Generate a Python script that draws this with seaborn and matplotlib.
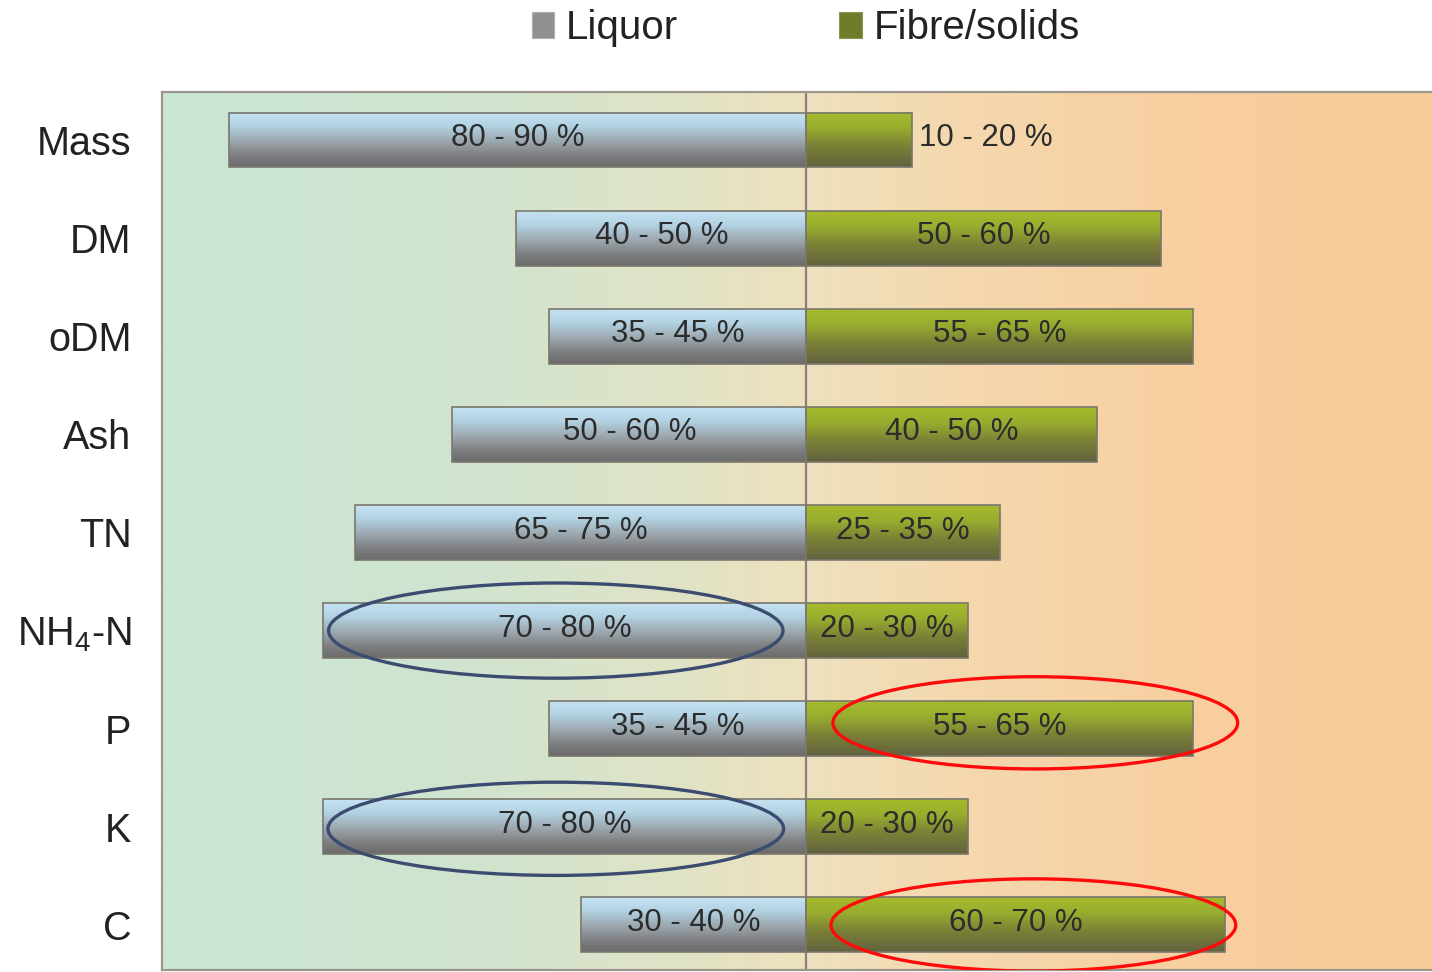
import numpy as np
import pandas as pd
import matplotlib
matplotlib.use("Agg")
import matplotlib.pyplot as plt
import seaborn as sns
from matplotlib.colors import LinearSegmentedColormap
from matplotlib.patches import Ellipse, Patch

# ---- data -------------------------------------------------------------
categories = ["Mass", "DM", "oDM", "Ash", "TN", "NH$_4$-N", "P", "K", "C"]
series_names = ["Liquor", "Fibre/solids"]

# share of each parameter ending up in the liquor / fibre fraction (%)
liquor_share = [89.6, 45, 40, 55, 70, 75, 40, 75, 35]
fibre_share = [16.3, 55, 60, 45, 30, 25, 60, 25, 65]

liquor_labels = ["80 - 90 %", "40 - 50 %", "35 - 45 %", "50 - 60 %", "65 - 75 %",
                 "70 - 80 %", "35 - 45 %", "70 - 80 %", "30 - 40 %"]
fibre_labels = ["10 - 20 %", "50 - 60 %", "55 - 65 %", "40 - 50 %", "25 - 35 %",
                "20 - 30 %", "55 - 65 %", "20 - 30 %", "60 - 70 %"]

# highlighted bars: category, centre x, width, height, vertical shift, colour
highlight_cats = ["NH$_4$-N", "K", "P", "C"]
highlight_cx = [-38.9, -38.9, 35.5, 35.2]
highlight_w = [70.5, 70.7, 62.8, 62.8]
highlight_h = [0.97, 0.95, 0.94, 0.94]
highlight_dy = [0.0, 0.02, -0.06, 0.0]
highlight_col = ["#3b4c70", "#3b4c70", "#ff0a0a", "#ff0a0a"]

# ---- style ------------------------------------------------------------
sns.set_style("white")
plt.rcParams["font.family"] = ["Liberation Sans", "DejaVu Sans"]
plt.rcParams["mathtext.fontset"] = "custom"
plt.rcParams["mathtext.rm"] = "Liberation Sans"
plt.rcParams["mathtext.it"] = "Liberation Sans:italic"
plt.rcParams["mathtext.bf"] = "Liberation Sans:bold"

fig = plt.figure(figsize=(14.32, 9.72), dpi=100)
fig.patch.set_facecolor("white")
ax = fig.add_axes([162 / 1432, 2 / 972, 1289 / 1432, 878 / 972])

df = pd.DataFrame({
    "category": categories * 2,
    "series": [series_names[0]] * len(categories) + [series_names[1]] * len(categories),
    "share": [-v for v in liquor_share] + list(fibre_share),
})

sns.barplot(data=df, y="category", x="share", hue="series", hue_order=series_names,
            order=categories, orient="h", dodge=False, width=0.56, saturation=1,
            palette={"Liquor": "#9aa6ae", "Fibre/solids": "#7d8a32"},
            legend=False, ax=ax)

# background wash: mint green on the left fading into peach on the right
bg_cmap = LinearSegmentedColormap.from_list("bg", [
    (0.0, "#c9e6d4"), (0.22, "#cfe4d0"), (0.40, "#e0e3c6"), (0.50, "#eee1be"),
    (0.62, "#f4d8ae"), (0.80, "#f8cfa0"), (1.0, "#f9cb98")])
ax.imshow(np.linspace(0, 1, 512).reshape(1, -1), cmap=bg_cmap, aspect="auto",
          extent=(0, 1, 0, 1), transform=ax.transAxes, zorder=0,
          interpolation="bilinear")

# glossy vertical gradients inside the bars
liquor_cmap = LinearSegmentedColormap.from_list("liq", [
    (0.0, "#c4e2f2"), (0.25, "#b3d2e3"), (0.55, "#9aa4ab"), (0.8, "#7c7d7f"), (1.0, "#6b6b6b")])
fibre_cmap = LinearSegmentedColormap.from_list("fib", [
    (0.0, "#a6bc2c"), (0.3, "#98ab2f"), (0.6, "#7c8236"), (1.0, "#62623e")])

grad = np.linspace(0, 1, 256).reshape(-1, 1)
for container, cmap in zip(ax.containers, [liquor_cmap, fibre_cmap]):
    for rect in container:
        x0, y0 = rect.get_x(), rect.get_y()
        w, h = rect.get_width(), rect.get_height()
        ax.imshow(grad, cmap=cmap, aspect="auto", origin="upper",
                  extent=(min(x0, x0 + w), max(x0, x0 + w), y0 + h, y0),
                  zorder=2.2, interpolation="bilinear")
        rect.set_facecolor("none")
        rect.set_edgecolor("#7a776c")
        rect.set_linewidth(1.2)
        rect.set_zorder(2.4)

# centre divider
ax.axvline(0, color="#85837c", lw=1.6, zorder=1.5)

# value-range labels
label_kw = dict(fontsize=22.5, color="#2c2c2c", va="center", zorder=4)
for i, (rect, txt) in enumerate(zip(ax.containers[0], liquor_labels)):
    yc = rect.get_y() + rect.get_height() / 2 - 0.02
    ax.text(-liquor_share[i] / 2, yc, txt, ha="center", **label_kw)
for i, (rect, txt) in enumerate(zip(ax.containers[1], fibre_labels)):
    yc = rect.get_y() + rect.get_height() / 2 - 0.02
    if fibre_share[i] < 20:
        ax.text(fibre_share[i] + 1.1, yc, txt, ha="left", **label_kw)
    else:
        ax.text(fibre_share[i] / 2, yc, txt, ha="center", **label_kw)

# ellipses marking the key results
for cat, cx, w, h, dy, col in zip(highlight_cats, highlight_cx, highlight_w,
                                  highlight_h, highlight_dy, highlight_col):
    yi = categories.index(cat)
    ax.add_patch(Ellipse((cx, yi + dy), w, h, fill=False, edgecolor=col,
                         lw=2.4, zorder=5))

ax.set_xlim(-100, 100)
ax.set_ylim(8.459, -0.489)
ax.set_xticks([])
ax.set_xlabel("")
ax.set_ylabel("")
ax.tick_params(axis="y", length=0, pad=22, labelsize=28.5, labelcolor="#222222")

for side in ["left", "top", "bottom"]:
    ax.spines[side].set_visible(True)
    ax.spines[side].set_color("#9c978c")
    ax.spines[side].set_linewidth(1.6)
ax.spines["right"].set_visible(False)

handles = [Patch(facecolor="#8e9092", edgecolor="#b0b0b0", lw=0.8),
           Patch(facecolor="#6f7d2a", edgecolor="#8c9650", lw=0.8)]
fig.legend(handles, series_names, loc="center", bbox_to_anchor=(806 / 1432, 1 - 28 / 972),
           ncol=2, frameon=False, fontsize=29, handlelength=0.55, handleheight=0.6,
           handletextpad=0.3, columnspacing=4.0, labelcolor="#222222")

fig.savefig("out.png", dpi=100, facecolor="white")
